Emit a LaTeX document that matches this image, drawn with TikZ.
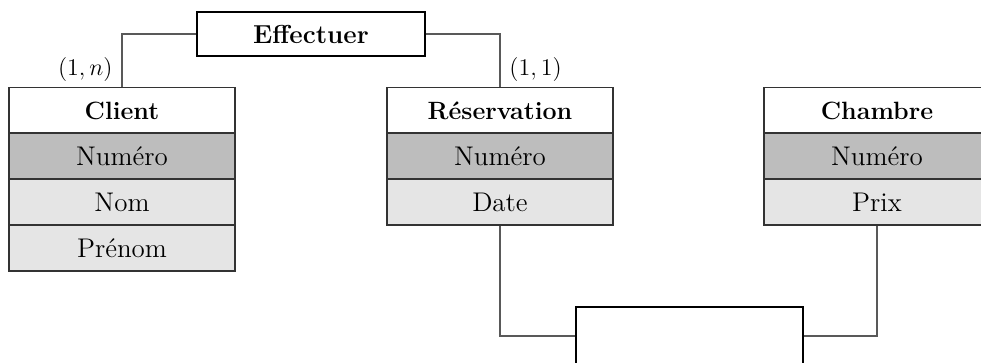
\documentclass[tikz,border=0pt]{standalone}
\begin{document}
\begin{tikzpicture}[x=0.5pt,y=-0.5pt,
  tbl/.style={draw=black!80, line width=0.7pt, minimum width=113pt, minimum height=23pt, inner sep=0pt, font=\fontsize{13.5}{15}\selectfont},
  head/.style={tbl, fill=white, font=\fontsize{12.5}{14}\selectfont\bfseries},
  key/.style={tbl, fill=black!26},
  attr/.style={tbl, fill=black!10},
  rel/.style={draw=black, line width=0.7pt, fill=white, inner sep=0pt, font=\fontsize{13}{15}\selectfont\bfseries},
  conn/.style={draw=black!65, line width=0.7pt},
  card/.style={font=\fontsize{13}{15}\selectfont, inner sep=0pt}]
\useasboundingbox (0,0) rectangle (981,363);
\clip (0,0) rectangle (981,363);
% Client
\node[head] (ch) at (122,110.5) {Client};
\node[key]  (cn) at (122,156) {Numéro};
\node[attr] (cnom) at (122,202) {Nom};
\node[attr] (cp) at (122,248) {Prénom};
% Reservation
\node[head] (rh) at (500,110.5) {Réservation};
\node[key]  (rn) at (500,156) {Numéro};
\node[attr] (rd) at (500,202) {Date};
% Chambre
\node[head] (hh) at (877,110.5) {Chambre};
\node[key]  (hn) at (877,156) {Numéro};
\node[attr] (hp) at (877,202) {Prix};
% relations
\node[rel, minimum width=114pt, minimum height=22pt] (eff) at (311,34) {Effectuer};
\node[rel, minimum width=113.5pt, minimum height=29pt] (bot) at (689.5,336) {};
% connectors
\draw[conn] (ch.north) |- (eff.west);
\draw[conn] (eff.east) -| (rh.north);
\draw[conn] (rd.south) |- (bot.west);
\draw[conn] (hp.south) |- (bot.east);
% cardinalities
\node[card, anchor=east] (c1) at (113,70) {$(1,n)$};
\node[card, anchor=west] (c2) at (509,70) {$(1,1)$};
\end{tikzpicture}
\end{document}
